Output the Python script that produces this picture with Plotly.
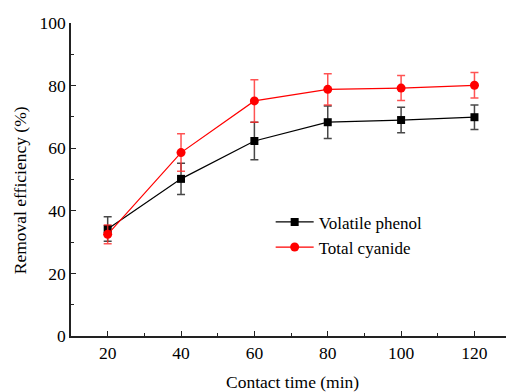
import plotly.graph_objects as go

time_min = [20, 40, 60, 80, 100, 120]
phenol = [34.2, 50.2, 62.3, 68.3, 69.0, 69.9]
phenol_err = [3.9, 5.0, 6.0, 5.2, 4.1, 3.9]
cyanide = [32.5, 58.6, 75.1, 78.8, 79.2, 80.1]
cyanide_err = [3.0, 6.0, 6.8, 5.0, 4.0, 4.1]
x_ticks = [20, 40, 60, 80, 100, 120]
y_ticks = [0, 20, 40, 60, 80, 100]

FONT = "Times New Roman"

fig = go.Figure()
fig.add_trace(go.Scatter(
    x=time_min, y=phenol, name="Volatile phenol", mode="lines+markers",
    line=dict(color="black", width=1.2),
    marker=dict(symbol="square", size=8, color="black"),
    error_y=dict(type="data", array=phenol_err, visible=True,
                 color="rgba(40,40,40,0.85)", thickness=1.5, width=4),
))
fig.add_trace(go.Scatter(
    x=time_min, y=cyanide, name="Total cyanide", mode="lines+markers",
    line=dict(color="red", width=1.2),
    marker=dict(symbol="circle", size=9, color="red"),
    error_y=dict(type="data", array=cyanide_err, visible=True,
                 color="rgba(255,40,40,0.8)", thickness=1.5, width=4),
))

fig.update_layout(
    width=507, height=392,
    margin=dict(l=71, r=1, t=23, b=56),
    paper_bgcolor="white", plot_bgcolor="white",
    font=dict(family=FONT, size=17.5, color="black"),
    showlegend=True,
    legend=dict(x=0.459, y=0.323, xanchor="left", yanchor="middle",
                bgcolor="rgba(0,0,0,0)", font=dict(size=17, family=FONT),
                itemwidth=38, tracegroupgap=0),
    xaxis=dict(
        range=[10, 128.6], tickvals=x_ticks, ticks="inside", ticklen=5,
        tickwidth=1.2, tickcolor="#222",
        showline=True, linecolor="#222", linewidth=1.5, showgrid=False,
        zeroline=False, mirror=False,
        minor=dict(ticks="inside", tickvals=[30, 50, 70, 90, 110], ticklen=3, tickcolor="#222", tickwidth=1.2, showgrid=False),
        tickfont=dict(size=17.5, family=FONT),
    ),
    yaxis=dict(
        range=[0, 100], tickvals=y_ticks, ticks="inside", ticklen=5,
        tickwidth=1.2, tickcolor="#222",
        showline=True, linecolor="#222", linewidth=1.5, showgrid=False,
        zeroline=False, mirror=False,
        minor=dict(ticks="inside", tickvals=[10, 30, 50, 70, 90], ticklen=3, tickcolor="#222", tickwidth=1.2, showgrid=False),
        tickfont=dict(size=17.5, family=FONT),
    ),
    annotations=[
        dict(text="Contact time (min)", xref="paper", yref="paper",
             x=0.51, y=-0.11, xanchor="center", yanchor="top",
             showarrow=False, font=dict(size=17.5, family=FONT)),
        dict(text="Removal efficiency (%)", xref="paper", yref="paper",
             x=-0.117, y=0.466, xanchor="center", yanchor="middle", textangle=-90,
             showarrow=False, font=dict(size=17.5, family=FONT)),
    ],
)
fig.write_html("out.html")
